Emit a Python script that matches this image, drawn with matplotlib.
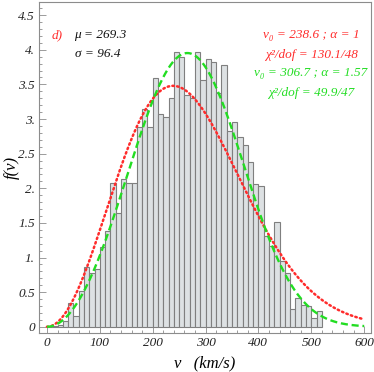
import math
import numpy as np
import matplotlib
matplotlib.use("Agg")
import matplotlib.pyplot as plt
from matplotlib.ticker import MultipleLocator, FixedLocator, FixedFormatter

# ---- data ----
bin_left = list(range(0, 520, 10))
bin_width = 10
freq = [0.0, 0.01, 0.03, 0.08, 0.34, 0.15, 0.52, 0.87, 0.77, 0.83,
        1.15, 1.38, 2.07, 1.65, 2.14, 2.07, 2.07, 2.89, 3.15, 2.89,
        3.59, 3.07, 3.03, 3.30, 3.97, 3.89, 3.34, 3.30, 3.97, 3.56,
        3.86, 3.82, 3.37, 3.78, 2.82, 2.95, 2.74, 2.62, 2.38, 2.06,
        2.03, 1.31, 1.16, 1.51, 0.95, 0.78, 0.26, 0.41, 0.31, 0.30,
        0.12, 0.23]

mu, sigma = 269.3, 96.4
red_v0, red_alpha = 238.6, 1.0
green_v0, green_alpha = 306.7, 1.57
red_chi = "130.1/48"
green_chi = "49.9/47"

x_ticks = [0, 100, 200, 300, 400, 500, 600]
x_ticklabels = ["0", "100", "200", "300", "400", "500", "600"]
y_ticks = [0, 0.5, 1, 1.5, 2, 2.5, 3, 3.5, 4, 4.5]
y_ticklabels = ["0", "0.5", "1.", "1.5", "2.", "2.5", "3.", "3.5", "4.", "4.5"]


def model(v, v0, alpha):
    beta = 2 * alpha
    norm = v0 ** 3 * math.gamma(3 / beta) / beta
    return 1e3 * v ** 2 * np.exp(-(v / v0) ** beta) / norm


RED = "#ff2b2b"
GREEN = "#22dd22"
FRAME = "#8c8c8c"
SERIF = ["Liberation Serif", "DejaVu Serif"]

fig = plt.figure(figsize=(3.74, 3.72), dpi=100)
ax = fig.add_axes([0.1043, 0.1056, 0.8877, 0.889])

ax.bar(bin_left, freq, width=bin_width, align="edge",
       color="#dde1e3", edgecolor="#7f7f7f", linewidth=0.8, zorder=2)

v = np.linspace(0, 600, 600)
ax.plot(v, model(v, red_v0, red_alpha), color=RED, lw=1.8,
        linestyle=(0, (0.6, 1.3)), dash_capstyle="round", zorder=3)
ax.plot(v, model(v, green_v0, green_alpha), color=GREEN, lw=1.7,
        linestyle=(0, (3.0, 1.6)), zorder=3)

ax.set_xlim(-15, 613)
ax.set_ylim(-0.086, 4.69)

for s in ax.spines.values():
    s.set_color(FRAME)
    s.set_linewidth(0.8)

ax.xaxis.set_major_locator(FixedLocator(x_ticks))
ax.xaxis.set_major_formatter(FixedFormatter(x_ticklabels))
ax.xaxis.set_minor_locator(MultipleLocator(20))
ax.yaxis.set_major_locator(FixedLocator(y_ticks))
ax.yaxis.set_major_formatter(FixedFormatter(y_ticklabels))
ax.yaxis.set_minor_locator(MultipleLocator(0.1))
ax.tick_params(which="both", direction="in", color=FRAME, width=0.6,
               top=False, right=False)
ax.tick_params(which="major", length=5, pad=3)
ax.tick_params(which="minor", length=2.5)
for lab in ax.get_xticklabels() + ax.get_yticklabels():
    lab.set_fontfamily(SERIF)
    lab.set_fontstyle("italic")
    lab.set_fontsize(9.5)
    lab.set_color("#222222")

xl = ax.set_xlabel("v   (km/s)", fontfamily=SERIF, fontstyle="italic",
                   fontsize=12)
xl.set_va("center")
ax.xaxis.set_label_coords(0.5, -0.0916)
yl = ax.set_ylabel("f(v)", fontfamily=SERIF, fontstyle="italic",
                   fontsize=12)
yl.set_va("center")
ax.yaxis.set_label_coords(-0.081, 0.5)

tk = dict(fontfamily=SERIF, fontstyle="italic", fontsize=9.5,
          transform=fig.transFigure, va="center")

def fx(px):
    return px / 374

def fy(py):
    return 1 - py / 372

fig.text(fx(52), fy(35), "d)", color=RED, ha="left", **tk)
fig.text(fx(74), fy(35), f"\u03bc = {mu}", color="#111111", ha="left", **tk)
fig.text(fx(75), fy(54), f"\u03c3 = {sigma}", color="#111111", ha="left", **tk)

fig.text(fx(311), fy(35), f"v\u2080 = {red_v0} ; \u03b1 = {red_alpha:g}",
         color=RED, ha="center", **tk)
fig.text(fx(311), fy(55), f"\u03c7\u00b2/dof = {red_chi}",
         color=RED, ha="center", **tk)
fig.text(fx(311), fy(73), f"v\u2080 = {green_v0} ; \u03b1 = {green_alpha}",
         color=GREEN, ha="center", **tk)
fig.text(fx(311), fy(93), f"\u03c7\u00b2/dof = {green_chi}",
         color=GREEN, ha="center", **tk)

fig.savefig("out.png", dpi=100)
